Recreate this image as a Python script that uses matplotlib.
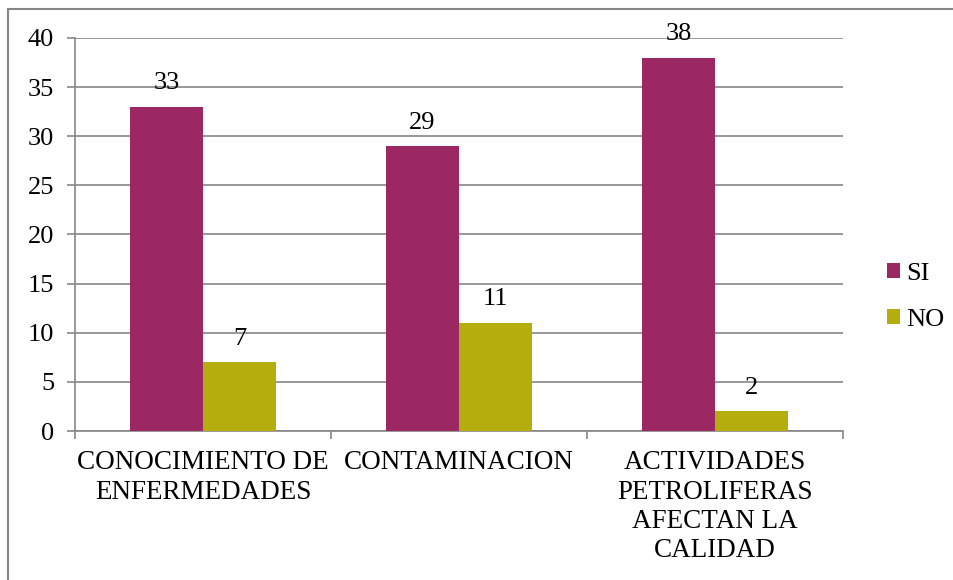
import matplotlib.pyplot as plt
from matplotlib.patches import Rectangle
import numpy as np

categories = ["CONOCIMIENTO DE\nENFERMEDADES", "CONTAMINACION",
              "ACTIVIDADES\nPETROLIFERAS\nAFECTAN LA\nCALIDAD"]
si_values = [33, 29, 38]
no_values = [7, 11, 2]
y_ticks = [0, 5, 10, 15, 20, 25, 30, 35, 40]

si_color = '#9B2763'
no_color = '#B5AC0E'
grid_color = '#868686'

plt.rcParams['font.family'] = ['Liberation Serif', 'DejaVu Serif']

fig = plt.figure(figsize=(9.54, 5.8), dpi=100)
ax = fig.add_axes([75 / 954, 1 - 431 / 580, 768 / 954, 393 / 580])

# outer chart frame, cut off at the right and bottom edges
fig.patches.append(Rectangle((8 / 954, -0.05), 1.0, 1 - 9 / 580 + 0.05,
                             transform=fig.transFigure, fill=False,
                             edgecolor=grid_color, linewidth=1.5))

x = np.arange(len(categories))
w = 0.285
bars_si = ax.bar(x - w / 2, si_values, w, color=si_color, label='SI', zorder=3)
bars_no = ax.bar(x + w / 2, no_values, w, color=no_color, label='NO', zorder=3)

for bars in (bars_si, bars_no):
    for b in bars:
        ax.annotate(f"{int(b.get_height())}",
                    (b.get_x() + b.get_width() / 2, b.get_height()),
                    xytext=(0, 9), textcoords='offset points',
                    ha='center', va='bottom', fontsize=19, zorder=4)

ax.set_xlim(-0.5, len(categories) - 0.5)
ax.set_ylim(0, 40)
ax.set_yticks(y_ticks)
ax.yaxis.grid(True, color=grid_color, linewidth=1.2, zorder=0)

ax.set_xticks(x)
ax.set_xticklabels(categories, fontsize=19.5, linespacing=1.22)
ax.set_xticks(np.arange(-0.5, len(categories)), minor=True)
ax.tick_params(axis='x', which='major', length=0, pad=14)
ax.tick_params(axis='x', which='minor', length=6, width=1.2, color=grid_color,
               direction='out')
ax.tick_params(axis='y', length=6, width=1.2, color=grid_color, labelsize=19,
               pad=9)

for side in ('top', 'right'):
    ax.spines[side].set_visible(False)
for side in ('left', 'bottom'):
    ax.spines[side].set_color(grid_color)
    ax.spines[side].set_linewidth(1.2)

fig.legend(loc='center left', bbox_to_anchor=(876 / 954, 1 - 297 / 580),
           frameon=False, fontsize=19, handlelength=0.5, handleheight=0.5,
           handletextpad=0.25, labelspacing=0.9, borderaxespad=0)

fig.savefig('out.png', dpi=100)
